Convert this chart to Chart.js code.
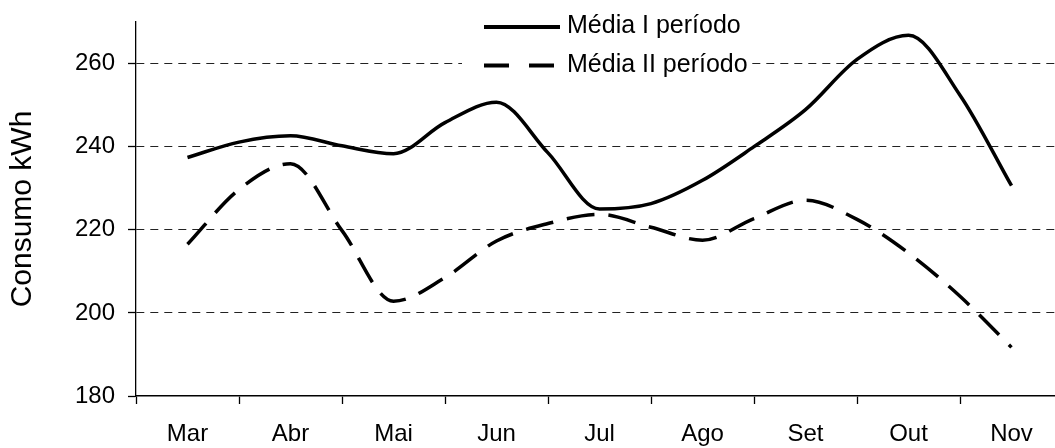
<!DOCTYPE html>
<html lang="pt">
<head>
  <meta charset="UTF-8" />
  <title>Consumo kWh</title>
  <script src="https://cdn.jsdelivr.net/npm/chart.js@4.4.0/dist/chart.umd.min.js"></script>
  <style>
    html, body {
      margin: 0;
      padding: 0;
      background: #fff;
      overflow: hidden;
    }
    #wrap {
      width: 1070px;
      height: 448px;
    }
  </style>
</head>
<body>
  <div id="wrap"><canvas id="consumoChart"></canvas></div>

  <script>
    // month labels on the category axis
    const months = ['Mar', 'Abr', 'Mai', 'Jun', 'Jul', 'Ago', 'Set', 'Out', 'Nov'];
    // readings every half month (0 = Mar, 8 = Nov)
    const positions = [0, 0.5, 1, 1.5, 2, 2.5, 3, 3.5, 4, 4.5, 5, 5.5, 6, 6.5, 7, 7.5, 8];
    const mediaI  = [237.4, 241.1, 242.6, 240.2, 238.3, 245.8, 250.7, 238.5, 225.0,
                     226.3, 231.9, 240.0, 248.9, 261.0, 266.8, 252.4, 230.6];
    const mediaII = [216.5, 229.7, 235.9, 219.8, 202.8, 208.5, 217.3, 221.5, 223.7,
                     220.6, 217.5, 222.7, 227.1, 222.5, 214.4, 204.0, 191.7];
    const yTicks = [180, 200, 220, 240, 260];

    const fontFamily = '"Liberation Sans", Arial, sans-serif';

    function toPoints(vals) {
      return positions.map((p, i) => ({ x: p, y: vals[i] }));
    }

    // legend drawn inside the plot, on a white box
    const boxLegend = {
      id: 'boxLegend',
      afterDraw(chart) {
        const ctx = chart.ctx;
        ctx.save();
        ctx.fillStyle = '#fff';
        ctx.fillRect(462, 4, 285, 80);
        ctx.font = '25px ' + fontFamily;
        ctx.textBaseline = 'alphabetic';
        ctx.textAlign = 'left';
        chart.data.datasets.forEach((ds, i) => {
          const base = 33 + i * 38.5;
          ctx.strokeStyle = ds.borderColor;
          ctx.lineWidth = 4;
          ctx.setLineDash(ds.borderDash ? [25, 20] : []);
          ctx.beginPath();
          ctx.moveTo(484, base - 6);
          ctx.lineTo(560, base - 6);
          ctx.stroke();
          ctx.setLineDash([]);
          ctx.fillStyle = '#000';
          ctx.fillText(ds.label, 567, base);
        });
        ctx.restore();
      }
    };

    new Chart(document.getElementById('consumoChart'), {
      type: 'line',
      data: {
        datasets: [
          {
            label: 'Média I período',
            data: toPoints(mediaI),
            xAxisID: 'xd',
            borderColor: '#000',
            borderWidth: 3.5,
            pointRadius: 0,
            cubicInterpolationMode: 'monotone'
          },
          {
            label: 'Média II período',
            data: toPoints(mediaII),
            xAxisID: 'xd',
            borderColor: '#000',
            borderWidth: 3.5,
            borderDash: [28, 14],
            pointRadius: 0,
            cubicInterpolationMode: 'monotone'
          }
        ]
      },
      options: {
        responsive: true,
        maintainAspectRatio: false,
        animation: false,
        events: [],
        layout: { autoPadding: false, padding: { top: 22, right: 7, left: 0, bottom: 0 } },
        plugins: {
          legend: { display: false },
          tooltip: { enabled: false }
        },
        scales: {
          x: {
            type: 'category',
            labels: months,
            min: 0,
            max: months.length - 1,
            offset: true,
            afterFit(scale) {
              scale.height = 52;
              scale.paddingLeft = 0;
              scale.paddingRight = 0;
            },
            grid: {
              offset: true,
              drawOnChartArea: false,
              tickLength: 8,
              tickColor: '#000',
              tickWidth: 1.3
            },
            border: { color: '#000', width: 1.6 },
            ticks: {
              color: '#000',
              padding: 16,
              maxRotation: 0,
              font: { family: fontFamily, size: 24 }
            }
          },
          xd: {
            type: 'linear',
            display: false,
            min: -0.5,
            max: 8.5,
            bounds: 'data'
          },
          y: {
            min: 180,
            max: 270,
            afterFit(scale) {
              scale.width = 136;
              scale.paddingTop = 0;
              scale.paddingBottom = 0;
            },
            afterBuildTicks(scale) {
              scale.ticks = yTicks.map(v => ({ value: v }));
            },
            title: {
              display: true,
              text: 'Consumo kWh',
              color: '#000',
              padding: { top: 5, bottom: 0 },
              font: { family: fontFamily, size: 30 }
            },
            grid: {
              color: c => (c.tick && c.tick.value === 180) ? 'rgba(0,0,0,0)' : '#222',
              lineWidth: 1,
              tickLength: 8,
              tickColor: '#000',
              tickWidth: 1.3,
              tickBorderDash: []
            },
            border: { color: '#000', width: 1.3, dash: [8, 6] },
            ticks: {
              color: '#000',
              padding: 13,
              font: { family: fontFamily, size: 24 }
            }
          }
        }
      },
      plugins: [boxLegend]
    });
  </script>
</body>
</html>
